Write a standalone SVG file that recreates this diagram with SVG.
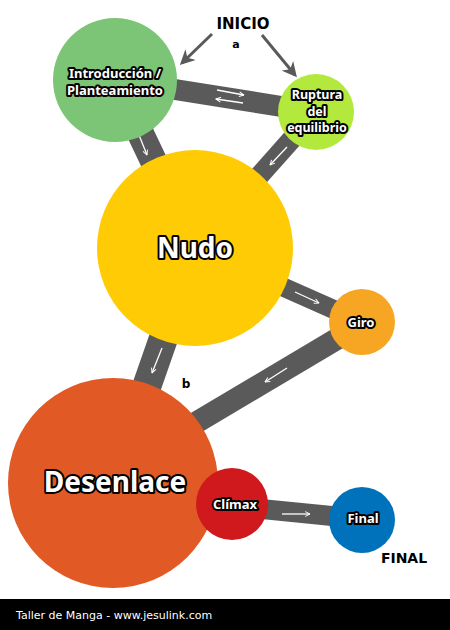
<svg xmlns="http://www.w3.org/2000/svg" width="450" height="630" viewBox="0 0 450 630">
<defs>
<style>
.band{stroke:#5a5a5a;fill:none;stroke-linecap:butt}
.ar{stroke:#ffffff;stroke-width:1.3;fill:none}
.lbl{font-family:"Noto Sans","DejaVu Sans",sans-serif;font-weight:bold;fill:#ffffff;stroke:#000000;stroke-width:4;stroke-linejoin:round;paint-order:stroke;text-anchor:middle}
.plain{font-family:"DejaVu Sans",Verdana,sans-serif;font-weight:bold;fill:#000000;text-anchor:middle}
.ga{stroke:#5a5a5a;stroke-width:3;fill:none}
</style>
<marker id="wh" viewBox="0 0 10 10" refX="9" refY="5" markerWidth="6" markerHeight="6" orient="auto" markerUnits="userSpaceOnUse">
<path d="M1,1 L9,5 L1,9" fill="none" stroke="#ffffff" stroke-width="1.6"/>
</marker>
<marker id="gh" viewBox="0 0 10 10" refX="8" refY="5" markerWidth="5" markerHeight="5" orient="auto">
<path d="M0,0 L10,5 L0,10 L3,5 Z" fill="#5a5a5a"/>
</marker>
</defs>
<rect width="450" height="630" fill="#ffffff"/>
<g id="connectors">
<line class="band" x1="115" y1="80" x2="316" y2="112" stroke-width="21"/>
<line class="band" x1="115" y1="80" x2="195" y2="248" stroke-width="27"/>
<line class="band" x1="316" y1="112" x2="195" y2="248" stroke-width="20"/>
<line class="band" x1="195" y1="248" x2="362" y2="322" stroke-width="19"/>
<line class="band" x1="362" y1="324" x2="113" y2="472" stroke-width="22"/>
<line class="band" x1="195" y1="248" x2="113" y2="483" stroke-width="29"/>
<line class="band" x1="232" y1="506" x2="362" y2="519" stroke-width="20"/>
<line class="ar" x1="217" y1="90" x2="244" y2="95" marker-end="url(#wh)"/>
<line class="ar" x1="243" y1="103" x2="216" y2="99" marker-end="url(#wh)"/>
<line class="ar" x1="137" y1="130" x2="147" y2="155" marker-end="url(#wh)"/>
<line class="ar" x1="287" y1="147" x2="270" y2="165" marker-end="url(#wh)"/>
<line class="ar" x1="295" y1="292" x2="319" y2="303" marker-end="url(#wh)"/>
<line class="ar" x1="287" y1="368" x2="265" y2="382" marker-end="url(#wh)"/>
<line class="ar" x1="162" y1="348" x2="152" y2="373" marker-end="url(#wh)"/>
<line class="ar" x1="282" y1="514" x2="310" y2="514" marker-end="url(#wh)"/>
<line class="ga" x1="212" y1="34" x2="182" y2="63" marker-end="url(#gh)"/>
<line class="ga" x1="262" y1="35" x2="295" y2="75" marker-end="url(#gh)"/>
</g>
<g id="intro">
<circle cx="115" cy="80" r="62" fill="#7cc576"/>
<text class="lbl" x="115" y="78" font-size="13">Introducción /</text>
<text class="lbl" x="115" y="95" font-size="13">Planteamiento</text>
</g>
<g id="ruptura">
<circle cx="316" cy="112" r="38" fill="#b3e83c"/>
<text class="lbl" x="317" y="99" font-size="12.5" stroke-width="3.5">Ruptura</text>
<text class="lbl" x="317" y="116" font-size="12.5" stroke-width="3.5">del</text>
<text class="lbl" x="317" y="132" font-size="12.5" stroke-width="3.5">equilibrio</text>
</g>
<g id="nudo">
<circle cx="195" cy="248" r="98" fill="#ffcb05"/>
<text class="lbl" x="195" y="258" font-size="28" stroke-width="5">Nudo</text>
</g>
<g id="giro">
<circle cx="362" cy="322" r="33" fill="#f6a623"/>
<text class="lbl" x="361" y="327" font-size="13">Giro</text>
</g>
<g id="desenlace">
<circle cx="113" cy="483" r="105" fill="#e15a26"/>
<text class="lbl" x="115" y="492" font-size="28" stroke-width="5">Desenlace</text>
</g>
<g id="climax">
<circle cx="232" cy="504" r="36" fill="#d0191c"/>
<text class="lbl" x="235" y="509" font-size="13">Clímax</text>
</g>
<g id="final">
<circle cx="362" cy="520" r="33" fill="#0071bb"/>
<text class="lbl" x="363" y="523" font-size="13">Final</text>
</g>
<g id="labels">
<text class="plain" x="243" y="29" font-size="15">INICIO</text>
<text class="plain" x="236" y="48" font-size="11">a</text>
<text class="plain" x="186" y="388" font-size="12">b</text>
<text class="plain" x="404" y="563" font-size="14">FINAL</text>
</g>
<g id="footer">
<rect x="0" y="599" width="450" height="31" fill="#000000"/>
<text x="16" y="619" font-family="'DejaVu Sans',sans-serif" font-size="11" fill="#ffffff">Taller de Manga - www.jesulink.com</text>
</g>
</svg>
